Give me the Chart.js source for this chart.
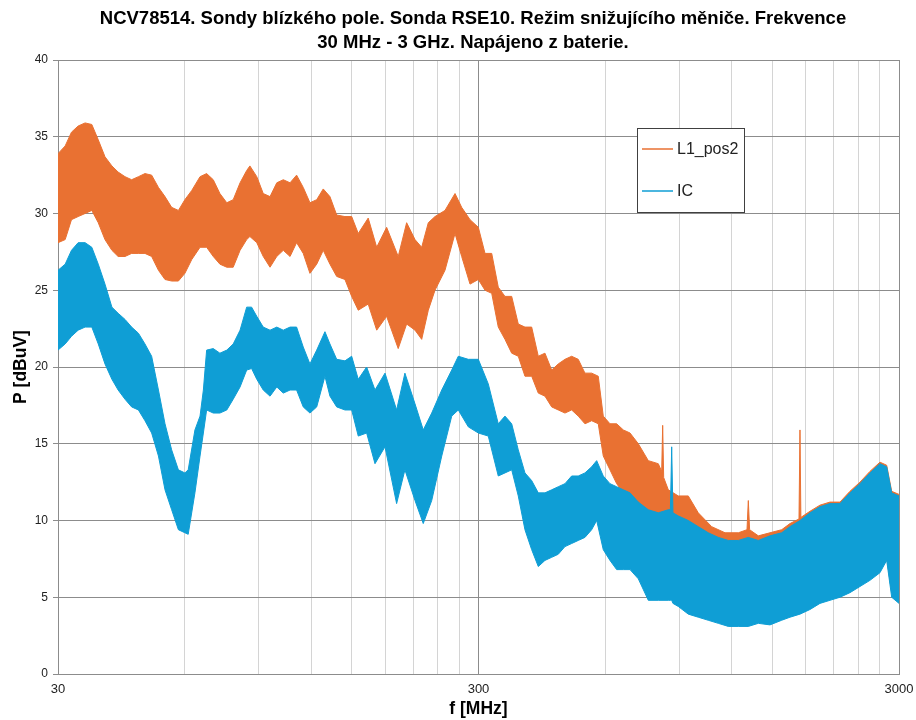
<!DOCTYPE html>
<html lang="cs">
<head>
  <meta charset="UTF-8">
  <title>NCV78514 - sonda RSE10</title>
  <script src="https://cdn.jsdelivr.net/npm/chart.js"></script>
  <style>
    body { margin: 0; background: #fff; }
    #chart { display: block; }
  </style>
</head>
<body>
<canvas id="chart" width="916" height="720"></canvas>

<script>
  // L1_pos2 envelope (upper / lower edge of the noisy trace)
  const l1Freq = [30.0, 31.2, 32.3, 33.5, 34.8, 36.1, 37.4, 38.8, 40.3, 41.7, 43.3, 44.9, 46.6, 48.3, 50.1,
    52.0, 53.9, 55.9, 58.0, 60.1, 62.4, 65.3, 67.7, 70.2, 72.8, 75.6, 78.3, 81.3, 84.3, 85.8, 89.1, 92.3,
    95.8, 99.4, 103.0, 106.9, 110.8, 114.9, 119.2, 123.7, 128.2, 133.0, 138.0, 144.4, 149.8, 155.3, 164.0,
    171.8, 181.4, 193.3, 202.4, 211.9, 219.8, 227.9, 236.4, 249.7, 263.8, 273.6, 286.4, 299.7, 310.9, 322.5,
    334.3, 346.8, 359.8, 373.0, 386.9, 401.4, 416.2, 431.7, 447.9, 464.3, 481.7, 499.6, 518.0, 537.4, 557.5,
    578.0, 594.1, 616.3, 639.3, 663.0, 687.8, 719.8, 760.2, 803.0, 818.0, 822.5, 827.0, 848.2, 895.9, 946.3,
    999.5, 1075.5, 1157.1, 1244.6, 1305.0, 1314.6, 1324.0, 1388.6, 1480.3, 1578.1, 1651.4, 1735.0, 1744.4,
    1753.0, 1842.6, 1946.3, 2055.8, 2171.5, 2293.6, 2422.6, 2558.9, 2703.1, 2804.3, 2882.4, 3000];
  const l1High = [33.9, 34.4, 35.3, 35.7, 35.9, 35.8, 34.8, 33.7, 33.1, 32.7, 32.4, 32.2, 32.4, 32.6, 32.5,
    31.7, 31.1, 30.4, 30.2, 30.9, 31.5, 32.4, 32.6, 32.2, 31.3, 30.7, 30.9, 32.0, 32.8, 33.1, 32.4, 31.3,
    31.1, 32.0, 32.2, 32.0, 32.5, 31.7, 30.7, 30.9, 31.6, 31.1, 29.9, 29.8, 29.8, 28.7, 29.7,
    27.8, 29.1, 27.2, 29.4, 28.3, 27.8, 29.4, 29.8, 30.2, 31.3, 30.4, 29.6, 29.1, 27.4, 27.4,
    25.2, 24.6, 24.6, 22.8, 22.6, 22.6, 20.7, 20.9, 19.8, 20.2, 20.5, 20.7, 20.5, 19.6, 19.6,
    19.4, 16.8, 16.3, 16.3, 15.9, 15.7, 15.0, 13.9, 13.7, 13.2, 16.2, 12.8, 12.0, 11.6, 11.6,
    10.5, 9.6, 9.2, 9.2, 9.4, 11.3, 9.4, 9.0, 9.2, 9.4, 9.8, 10.1, 15.9,
    10.2, 10.6, 11.0, 11.2, 11.2, 11.9, 12.5, 13.2, 13.8, 13.6, 11.9, 11.7];
  const l1Low = [28.1, 28.3, 29.6, 29.8, 30.0, 30.2, 29.4, 28.3, 27.6, 27.2, 27.2, 27.4, 27.4, 27.4, 27.2,
    26.3, 25.7, 25.6, 25.6, 26.1, 27.0, 27.8, 27.8, 27.2, 26.7, 26.5, 26.5, 27.6, 28.3, 28.5, 28.1, 27.2,
    26.5, 27.2, 27.6, 27.2, 28.1, 27.4, 26.1, 26.7, 27.6, 26.7, 25.9, 25.7, 24.6, 23.7, 24.1,
    22.4, 23.3, 21.2, 22.8, 22.4, 21.8, 23.7, 25.0, 26.3, 28.7, 27.2, 25.4, 25.7, 25.0, 24.8,
    22.6, 21.8, 20.9, 20.7, 19.4, 19.4, 18.3, 18.1, 17.4, 17.2, 17.0, 17.2, 16.8, 16.3, 16.5,
    16.3, 14.2, 13.3, 12.4, 11.8, 11.6, 11.0, 10.5, 9.6, 9.6, 9.6, 9.4, 9.2, 8.7, 8.3,
    7.6, 4.0, 3.6, 3.4, 3.4, 3.4, 3.4, 3.6, 3.5, 3.8, 4.0, 4.2, 4.2,
    4.2, 4.5, 4.9, 5.1, 5.3, 5.6, 6.0, 6.4, 6.9, 7.6, 5.3, 4.9];

  // IC envelope
  const icFreq = [30.0, 31.2, 32.3, 33.5, 34.8, 36.1, 37.4, 38.8, 40.3, 41.7, 43.3, 44.9, 46.6, 48.3, 50.1,
    52.0, 53.9, 55.9, 58.0, 60.1, 61.2, 63.5, 65.3, 66.5, 67.7, 70.2, 72.8, 75.6, 78.3, 81.3, 84.3, 86.6,
    89.1, 92.3, 95.8, 99.4, 103.0, 106.9, 110.8, 114.9, 119.2, 123.7, 129.4, 133.0, 138.0, 144.4, 149.8,
    155.3, 162.6, 170.2, 179.8, 191.6, 200.5, 211.9, 221.7, 232.2, 245.3, 259.1, 268.6, 283.7, 299.7, 316.5,
    334.3, 346.8, 359.8, 373.0, 386.9, 401.4, 416.2, 431.7, 447.9, 464.3, 481.7, 499.6, 518.0, 537.4, 557.5,
    573.0, 594.1, 616.3, 639.3, 663.0, 687.8, 719.8, 760.2, 803.0, 848.2, 858.0, 864.1, 870.0, 895.9, 946.3,
    999.5, 1055.7, 1115.4, 1178.1, 1244.6, 1314.6, 1388.6, 1480.3, 1578.1, 1651.4, 1744.4, 1842.6, 1946.3,
    2055.8, 2171.5, 2293.6, 2422.6, 2558.9, 2703.1, 2804.3, 2882.4, 3000];
  const icHigh = [26.3, 26.7, 27.6, 28.1, 28.1, 27.8, 26.7, 25.4, 23.9, 23.5, 23.1, 22.6, 22.2, 21.5, 20.7,
    18.5, 16.3, 14.6, 13.3, 13.1, 13.3, 15.9, 16.8, 18.5, 21.1, 21.2, 20.9, 21.1, 21.5, 22.4, 23.9, 23.9,
    23.3, 22.6, 22.4, 22.6, 22.4, 22.6, 22.6, 21.3, 20.2, 21.1, 22.3, 21.5, 20.5, 20.4, 20.7,
    19.2, 20.0, 18.5, 19.6, 17.2, 19.6, 17.6, 15.9, 17.0, 18.5, 19.8, 20.7, 20.5, 20.5, 18.9,
    16.3, 16.8, 16.3, 14.6, 13.1, 12.6, 11.8, 11.8, 12.0, 12.2, 12.4, 12.9, 12.9, 13.1, 13.5,
    13.9, 12.9, 12.4, 12.2, 12.0, 11.8, 11.2, 10.7, 10.5, 10.7, 10.7, 14.8, 10.5, 10.3, 10.0,
    9.6, 9.2, 8.9, 8.7, 8.7, 8.9, 8.7, 9.0, 9.2, 9.6, 10.0, 10.5, 10.9,
    11.1, 11.1, 11.8, 12.4, 13.1, 13.7, 13.5, 11.8, 11.6];
  const icLow = [21.1, 21.5, 22.0, 22.4, 22.6, 22.6, 21.5, 20.2, 19.2, 18.5, 17.9, 17.4, 17.2, 16.5, 15.7,
    14.2, 12.0, 10.7, 9.4, 9.2, 9.1, 11.8, 14.2, 15.7, 17.2, 17.0, 17.0, 17.2, 17.9, 18.7, 19.8, 19.9,
    19.2, 18.5, 18.1, 18.7, 18.3, 18.5, 18.5, 17.4, 17.0, 17.4, 19.4, 18.1, 17.4, 17.2, 17.2,
    15.5, 15.7, 13.7, 14.8, 11.1, 13.3, 11.3, 9.8, 11.3, 14.2, 16.8, 17.2, 16.1, 15.7, 15.5,
    12.9, 13.1, 13.3, 11.6, 9.4, 8.1, 7.0, 7.4, 7.6, 7.8, 8.3, 8.5, 8.7, 8.9, 9.4,
    10.0, 8.1, 7.4, 6.8, 6.8, 6.8, 6.2, 4.8, 4.8, 4.8, 4.8, 4.8, 4.6, 4.4, 3.9,
    3.7, 3.5, 3.3, 3.1, 3.1, 3.1, 3.3, 3.2, 3.5, 3.7, 3.9, 4.2, 4.6,
    4.8, 5.0, 5.3, 5.7, 6.1, 6.6, 7.4, 5.0, 4.6];

  // x axis: minor grid every 30 MHz step, labels only on decades
  const xGridTicks = [30, 60, 90, 120, 150, 180, 210, 240, 270, 300,
    600, 900, 1200, 1500, 1800, 2100, 2400, 2700, 3000];
  const xLabelTicks = [30, 300, 3000];

  const titleLines = ['NCV78514. Sondy blízkého pole. Sonda RSE10. Režim snižujícího měniče. Frekvence',
                      '30 MHz - 3 GHz. Napájeno z baterie.'];

  const ORANGE = '#E97132';
  const BLUE = '#0F9ED5';
  const FONT = "'Liberation Sans', Arial, sans-serif";

  Chart.defaults.font.family = FONT;

  const toPoints = (xs, ys) => xs.map((x, i) => ({ x: x, y: ys[i] }));

  const band = (label, color, xs, ys, fill, order) => ({
    label: label,
    data: toPoints(xs, ys),
    borderColor: color,
    backgroundColor: color,
    borderWidth: 1,
    pointRadius: 0,
    tension: 0,
    fill: fill,
    order: order
  });

  // two-line title, centred a bit right of the canvas middle as in the original
  const topTitle = {
    id: 'topTitle',
    afterDraw(chart) {
      const ctx = chart.ctx;
      ctx.save();
      ctx.font = 'bold 18.5px ' + FONT;
      ctx.fillStyle = '#000';
      ctx.textAlign = 'center';
      ctx.textBaseline = 'middle';
      titleLines.forEach((t, i) => ctx.fillText(t, 473, 19 + i * 24));
      ctx.restore();
    }
  };

  // legend box drawn inside the plot
  const boxLegend = {
    id: 'boxLegend',
    afterDatasetsDraw(chart) {
      const ctx = chart.ctx;
      const items = [
        { text: chart.data.datasets[2].label, color: ORANGE, y: 149 },
        { text: chart.data.datasets[0].label, color: BLUE, y: 191 }
      ];
      ctx.save();
      ctx.fillStyle = '#fff';
      ctx.fillRect(637, 128, 107, 84);
      ctx.strokeStyle = '#404040';
      ctx.lineWidth = 1;
      ctx.strokeRect(637.5, 128.5, 107, 84);
      ctx.font = '16px ' + FONT;
      ctx.textBaseline = 'middle';
      items.forEach(it => {
        ctx.strokeStyle = it.color;
        ctx.lineWidth = 1.5;
        ctx.beginPath();
        ctx.moveTo(642, it.y);
        ctx.lineTo(673, it.y);
        ctx.stroke();
        ctx.fillStyle = '#222';
        ctx.fillText(it.text, 677, it.y + 1);
      });
      ctx.restore();
    }
  };

  new Chart(document.getElementById('chart'), {
    type: 'line',
    data: {
      datasets: [
        band('IC', BLUE, icFreq, icHigh, '+1', 0),
        band('IC', BLUE, icFreq, icLow, false, 0),
        band('L1_pos2', ORANGE, l1Freq, l1High, '+1', 1),
        band('L1_pos2', ORANGE, l1Freq, l1Low, false, 1)
      ]
    },
    options: {
      responsive: false,
      animation: false,
      layout: { padding: { left: 0, right: 17, top: 60, bottom: 0 } },
      plugins: {
        legend: { display: false },
        tooltip: { enabled: false },
        title: { display: false }
      },
      scales: {
        x: {
          type: 'logarithmic',
          min: 30,
          max: 3000,
          afterBuildTicks: s => { s.ticks = xGridTicks.map(v => ({ value: v })); },
          afterFit: s => { s.height = 46; s.paddingLeft = 0; s.paddingRight = 0; },
          ticks: {
            autoSkip: false,
            maxRotation: 0,
            padding: 8,
            color: '#222',
            font: { size: 13 },
            callback: v => xLabelTicks.includes(v) ? String(v) : ''
          },
          grid: {
            drawTicks: false,
            color: c => (c.tick && xLabelTicks.includes(c.tick.value)) ? '#8c8c8c' : '#d4d4d4'
          },
          border: { color: '#8c8c8c' },
          title: {
            display: true,
            text: 'f [MHz]',
            color: '#000',
            font: { size: 17.5, weight: 'bold' },
            padding: { top: 0, bottom: 0 }
          }
        },
        y: {
          min: 0,
          max: 40,
          afterFit: s => { s.width = 58; s.paddingTop = 0; s.paddingBottom = 0; },
          ticks: { stepSize: 5, padding: 5, color: '#222', font: { size: 12 } },
          grid: { color: '#8c8c8c', tickLength: 5 },
          border: { color: '#8c8c8c' },
          title: {
            display: true,
            text: 'P [dBuV]',
            color: '#000',
            font: { size: 17.5, weight: 'bold' },
            padding: { top: 11, bottom: 0 }
          }
        }
      }
    },
    plugins: [topTitle, boxLegend]
  });
</script>
</body>
</html>
